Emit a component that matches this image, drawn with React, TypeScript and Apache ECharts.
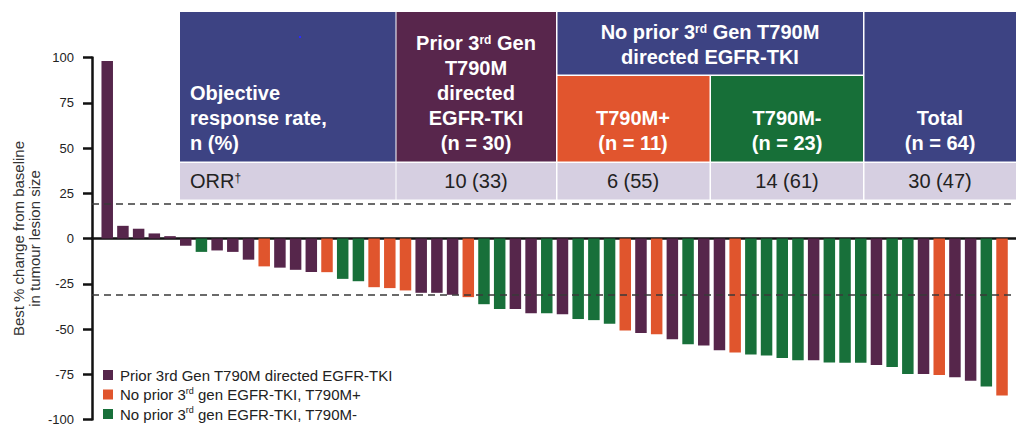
import React, { useEffect, useRef } from "react";
import * as echarts from "echarts";

// ---- data ----
const groupNames = [
  "Prior 3rd Gen T790M directed EGFR-TKI",
  "No prior 3rd gen EGFR-TKI, T790M+",
  "No prior 3rd gen EGFR-TKI, T790M-",
];
// group code per patient: 0 = prior 3rd gen, 1 = T790M+, 2 = T790M-
const patientGroups = [
  0, 0, 0, 0, 0, 0, 2, 0, 0, 0,
  1, 0, 0, 0, 1, 2, 2, 1, 1, 1,
  0, 0, 0, 1, 2, 2, 0, 0, 2, 0,
  2, 2, 2, 1, 0, 1, 0, 2, 0, 0,
  1, 2, 2, 2, 2, 0, 2, 2, 2, 0,
  2, 2, 0, 1, 0, 0, 2, 1,
];
const bestChange = [
  98, 7, 5.4, 2.8, 1.3, -4, -7.4, -6.6, -7.4, -11.7,
  -15.4, -16.1, -17.3, -18.5, -18.6, -22.3, -23.6, -26.9, -27.4, -28.7,
  -30, -30, -31.1, -32.4, -36.3, -38.9, -38.9, -41.3, -41.3, -41.9,
  -44.5, -45.1, -47.1, -50.8, -52.2, -52.9, -55.6, -58.4, -59.1, -61.7,
  -63, -64.1, -64.7, -66, -67.3, -67.3, -68.5, -68.6, -68.6, -69.9,
  -71, -74.9, -74.9, -75.4, -76.7, -78.6, -81.7, -86.7,
];
const thresholds = [19, -31];
const yTicks = { min: -100, max: 100, interval: 25 };

const orrHeaders = [
  "Objective\nresponse rate,\nn (%)",
  "Prior 3{sb|rd} Gen\nT790M\ndirected\nEGFR-TKI\n(n = 30)",
  "No prior 3{sb|rd} Gen T790M\ndirected EGFR-TKI",
  "T790M+\n(n = 11)",
  "T790M-\n(n = 23)",
  "Total\n(n = 64)",
];
const orrRowLabel = "ORR{sr|†}";
const orrValues = ["10 (33)", "6 (55)", "14 (61)", "30 (47)"];

// ---- styles ----
const FONT = "'Liberation Sans', Arial, Helvetica, sans-serif";
const barColors = ["#56264B", "#E0552D", "#18703A"];
const BLUE = "#3D4383";
const ROW = "#D6CFE1";

export default function App() {
  const ref = useRef<HTMLDivElement>(null);

  useEffect(() => {
    if (!ref.current) return;
    const chart = echarts.init(ref.current, null, { renderer: "svg" });

    const series: any[] = groupNames.map((name, g) => ({
      name,
      type: "bar",
      barWidth: 11.5,
      barGap: "-100%",
      z: 3,
      itemStyle: { color: barColors[g] },
      data: bestChange
        .map((v, i) => (patientGroups[i] === g ? [i, v] : null))
        .filter((d) => d !== null),
    }));
    series.push({
      name: "thresholds",
      type: "line",
      data: [],
      z: 1,
      markLine: {
        silent: true,
        symbol: "none",
        label: { show: false },
        lineStyle: { color: "#3a3a3a", width: 1.6, type: [7, 5] },
        data: thresholds.map((t) => ({ yAxis: t })),
      },
    });

    const rect = (x: number, y: number, w: number, h: number, fill: string) => ({
      type: "rect",
      silent: true,
      z: 10,
      shape: { x, y, width: w, height: h },
      style: { fill },
    });
    const supBold = {
      fontSize: 12,
      fontWeight: "bold",
      fontFamily: FONT,
      fill: "#fff",
      verticalAlign: "top",
      padding: [3, 0, 0, 0],
    };
    const headText = (x: number, y: number, text: string, align: string) => ({
      type: "text",
      silent: true,
      z: 11,
      x,
      y,
      style: {
        text,
        fill: "#fff",
        fontSize: 20,
        fontWeight: "bold",
        fontFamily: FONT,
        lineHeight: 25,
        textAlign: align,
        textVerticalAlign: "middle",
        rich: { sb: supBold },
      },
    });
    const rowText = (x: number, text: string, align: string) => ({
      type: "text",
      silent: true,
      z: 11,
      x,
      y: 181,
      style: {
        text,
        fill: "#222",
        fontSize: 20,
        fontFamily: FONT,
        lineHeight: 25,
        textAlign: align,
        textVerticalAlign: "middle",
        rich: {
          sr: { fontSize: 12, fontFamily: FONT, fill: "#222", verticalAlign: "top", padding: [3, 0, 0, 0] },
        },
      },
    });

    const graphic: any[] = [
      rect(180, 12, 215.5, 149.5, BLUE),
      rect(396.5, 12, 159.5, 149.5, "#58264C"),
      rect(557.5, 12, 305.5, 62.5, BLUE),
      rect(557.5, 76, 152, 85.5, "#E1552E"),
      rect(711, 76, 152, 85.5, "#176F38"),
      rect(864.5, 12, 151.5, 149.5, BLUE),
      rect(180, 163, 215.5, 36.5, ROW),
      rect(396.5, 163, 159.5, 36.5, ROW),
      rect(557.5, 163, 152, 36.5, ROW),
      rect(711, 163, 152, 36.5, ROW),
      rect(864.5, 163, 151.5, 36.5, ROW),
      rect(299, 36, 2, 2, "#2a2aff"),
      headText(190, 118, orrHeaders[0], "left"),
      headText(476, 93, orrHeaders[1], "center"),
      headText(710, 44.5, orrHeaders[2], "center"),
      headText(633, 130.5, orrHeaders[3], "center"),
      headText(787, 130.5, orrHeaders[4], "center"),
      headText(940, 130.5, orrHeaders[5], "center"),
      rowText(190, orrRowLabel, "left"),
      rowText(476, orrValues[0], "center"),
      rowText(633, orrValues[1], "center"),
      rowText(787, orrValues[2], "center"),
      rowText(940, orrValues[3], "center"),
    ];

    chart.setOption({
      animation: false,
      backgroundColor: "#ffffff",
      textStyle: { fontFamily: FONT },
      grid: {
        left: 92,
        right: 0,
        top: 57.5,
        height: 362,
        containLabel: false,
        outerBoundsMode: "none",
      },
      legend: {
        data: groupNames,
        orient: "vertical",
        left: 103,
        top: 366.5,
        padding: 0,
        height: 59,
        icon: "rect",
        itemWidth: 10,
        itemHeight: 10,
        itemGap: 2.5,
        selectedMode: false,
        textStyle: {
          fontSize: 15,
          color: "#222",
          fontFamily: FONT,
          lineHeight: 17,
          padding: [0, 0, 0, 2],
          rich: {
            sp: { fontSize: 9, color: "#222", fontFamily: FONT, verticalAlign: "top", lineHeight: 10 },
          },
        },
        formatter: (name: string) =>
          name.startsWith("No prior 3rd") ? name.replace("3rd", "3{sp|rd}") : name,
      },
      xAxis: {
        type: "value",
        min: -0.97,
        max: 57.89,
        axisLine: { show: true, onZero: true, lineStyle: { color: "#111", width: 2.5 } },
        axisTick: { show: false },
        axisLabel: { show: false },
        splitLine: { show: false },
      },
      yAxis: {
        type: "value",
        min: yTicks.min,
        max: yTicks.max,
        interval: yTicks.interval,
        name: "Best % change from baseline\nin tumour lesion size",
        nameLocation: "middle",
        nameGap: 50,
        nameMoveOverlap: false,
        nameTextStyle: { fontSize: 15, color: "#333", fontFamily: FONT, lineHeight: 16 },
        axisLine: { show: true, onZero: false, lineStyle: { color: "#111", width: 2.5 } },
        axisTick: { show: true, length: 9, lineStyle: { color: "#111", width: 2.5 } },
        axisLabel: { fontSize: 13, color: "#222", margin: 18, fontFamily: FONT },
        splitLine: { show: false },
      },
      series,
      graphic,
    });

    return () => chart.dispose();
  }, []);

  return (
    <div
      ref={ref}
      style={{ position: "absolute", left: 0, top: 0, width: 1016, height: 426 }}
    />
  );
}
